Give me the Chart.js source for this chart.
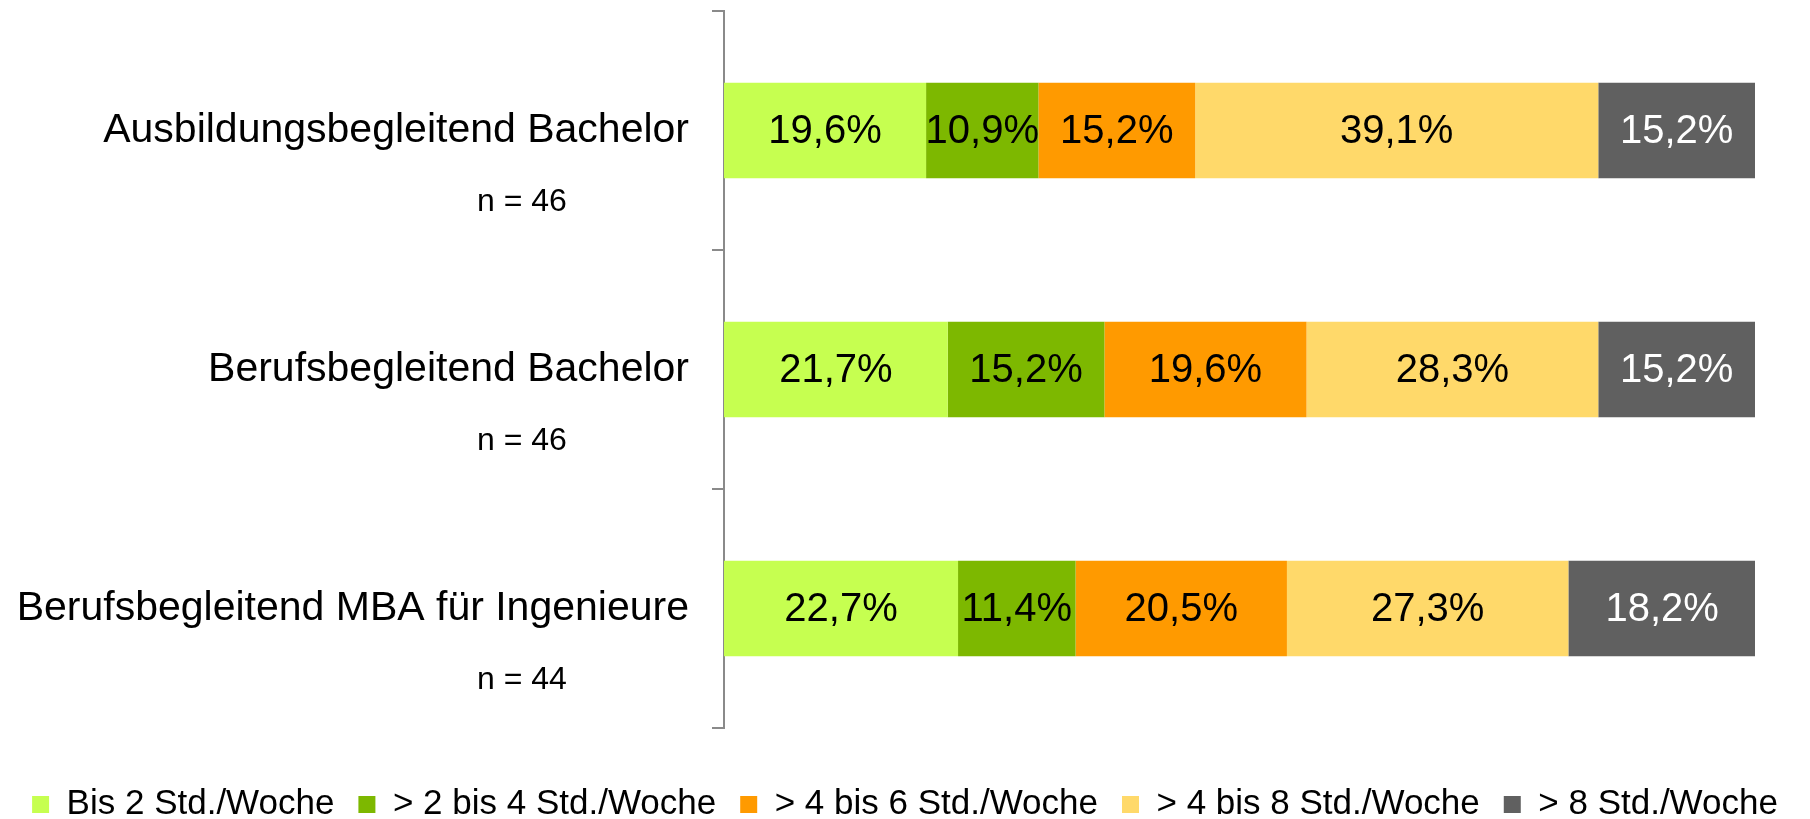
<!DOCTYPE html>
<html>
<head>
<meta charset="utf-8">
<script src="https://cdn.jsdelivr.net/npm/chart.js@4.4.1/dist/chart.umd.min.js"></script>
<style>
  html, body { margin: 0; padding: 0; background: #fff; overflow: hidden; }
  #wrap { width: 1810px; height: 819px; }
</style>
</head>
<body>
<div id="wrap"><canvas id="grafico" width="1810" height="819"></canvas></div>
<script>
const kategorien = ['Ausbildungsbegleitend Bachelor', 'Berufsbegleitend Bachelor', 'Berufsbegleitend MBA für Ingenieure'];
const stichprobe = ['n = 46', 'n = 46', 'n = 44'];
const serien = ['Bis 2 Std./Woche', '> 2 bis 4 Std./Woche', '> 4 bis 6 Std./Woche', '> 4 bis 8 Std./Woche', '> 8 Std./Woche'];
const bis2 = [19.6, 21.7, 22.7];
const bis4 = [10.9, 15.2, 11.4];
const bis6 = [15.2, 19.6, 20.5];
const bis8 = [39.1, 28.3, 27.3];
const ueber8 = [15.2, 15.2, 18.2];

const farben = ['#C6FF50', '#7DB800', '#FF9A00', '#FFD96A', '#606060'];
const textFarben = ['#000', '#000', '#000', '#000', '#fff'];
const FONT = '"Liberation Sans", Arial, sans-serif';

const werte = [bis2, bis4, bis6, bis8, ueber8];

// Prozentwerte in die Balken schreiben
const balkenLabels = {
  id: 'balkenLabels',
  afterDatasetsDraw(chart) {
    const ctx = chart.ctx;
    ctx.save();
    ctx.font = '40px ' + FONT;
    ctx.textAlign = 'center';
    ctx.textBaseline = 'middle';
    chart.data.datasets.forEach((ds, i) => {
      const meta = chart.getDatasetMeta(i);
      meta.data.forEach((bar, j) => {
        const v = ds.data[j];
        ctx.fillStyle = textFarben[i];
        ctx.fillText(v.toFixed(1).replace('.', ',') + '%', (bar.x + bar.base) / 2, bar.y + 1);
      });
    });
    ctx.restore();
  }
};

// "n = .." unter den Kategorien
const nLabels = {
  id: 'nLabels',
  afterDraw(chart) {
    const ctx = chart.ctx;
    const y = chart.scales.y;
    ctx.save();
    ctx.font = '32px ' + FONT;
    ctx.fillStyle = '#000';
    ctx.textAlign = 'left';
    ctx.textBaseline = 'middle';
    stichprobe.forEach((t, i) => {
      ctx.fillText(t, chart.chartArea.left - 247, y.getPixelForValue(i) + 72);
    });
    ctx.restore();
  }
};

new Chart(document.getElementById('grafico'), {
  type: 'bar',
  data: {
    labels: kategorien,
    datasets: serien.map((s, i) => ({
      label: s,
      data: werte[i],
      backgroundColor: farben[i],
      borderWidth: 0,
      barPercentage: 0.4,
      categoryPercentage: 1.0
    }))
  },
  options: {
    indexAxis: 'y',
    responsive: false,
    animation: false,
    layout: { padding: { top: 11, right: 0, left: 0, bottom: -13 } },
    plugins: {
      legend: {
        position: 'bottom',
        labels: {
          font: { size: 35, family: FONT },
          color: '#000',
          boxWidth: 17,
          boxHeight: 17,
          padding: 24
        }
      },
      tooltip: { enabled: false }
    },
    scales: {
      x: {
        stacked: true,
        min: 0,
        max: 100,
        ticks: { display: false },
        grid: { display: false, drawTicks: true, tickLength: 35 },
        border: { display: false }
      },
      y: {
        stacked: true,
        afterFit: (s) => { s.width = 724; s.paddingTop = 0; s.paddingBottom = 0; },
        ticks: {
          color: '#000',
          font: { size: 41, family: FONT },
          padding: 23
        },
        grid: {
          offset: true,
          drawOnChartArea: false,
          drawTicks: true,
          tickLength: 12,
          color: '#8a8a8a',
          lineWidth: 2
        },
        border: { display: true, color: '#8a8a8a', width: 2 }
      },
      // leerer Rand rechts
      rand: {
        axis: 'y',
        type: 'linear',
        position: 'right',
        ticks: { display: false },
        grid: { display: false, drawTicks: false },
        border: { display: false },
        afterFit: (s) => { s.width = 55; s.paddingTop = 0; s.paddingBottom = 0; }
      }
    }
  },
  plugins: [balkenLabels, nLabels]
});
</script>
</body>
</html>
